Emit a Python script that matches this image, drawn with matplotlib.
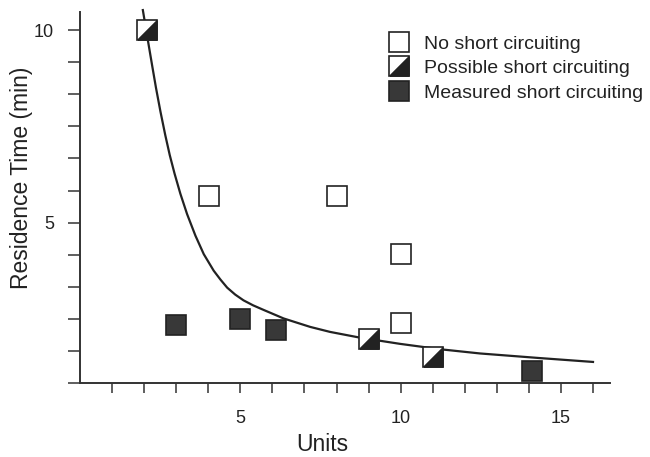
import matplotlib
matplotlib.use('Agg')
import matplotlib.pyplot as plt

# Values
no_x = [4.03, 8.02, 10.0, 10.0]
no_y = [5.69, 5.69, 4.18, 2.39]

possible_x = [2.1, 9.0, 11.0]
possible_y = [10.0, 1.97, 1.51]

measured_x = [3.0, 5.0, 6.1, 14.1]
measured_y = [2.34, 2.49, 2.21, 1.14]

# fitted curve
curve_x = [1.96, 2.12, 2.25, 2.37, 2.51, 2.66, 2.80, 2.95, 3.13, 3.34, 3.60,
           3.86, 4.17, 4.38, 4.59, 4.84, 5.10, 5.40, 5.73, 6.35, 7.18, 7.80,
           8.74, 9.98, 11.23, 12.48, 14.35, 16.0]
curve_y = [10.52, 9.72, 9.08, 8.50, 7.88, 7.27, 6.75, 6.27, 5.75, 5.22, 4.66,
           4.18, 3.75, 3.52, 3.31, 3.13, 2.98, 2.85, 2.73, 2.51, 2.29, 2.16,
           2.01, 1.85, 1.71, 1.60, 1.48, 1.38]

legend_labels = ['No short circuiting', 'Possible short circuiting',
                 'Measured short circuiting']

xtick_pos = list(range(1, 17))
xtick_labels = ['' if v not in (5, 10, 15) else str(v) for v in xtick_pos]
ytick_pos = [0.833, 1.667, 2.5, 3.333, 4.167, 5.0, 5.833, 6.667, 7.5, 8.333, 9.167, 10.0]
ytick_labels = ['', '', '', '', '', '5', '', '', '', '', '', '10']

plt.rcParams['font.family'] = ['Liberation Sans', 'DejaVu Sans']

ink = '#222222'

fig = plt.figure(figsize=(6.5, 4.57), dpi=100)
ax = fig.add_axes([80 / 650, 1 - 383 / 457, 530 / 650, 371 / 457])

ax.plot(curve_x, curve_y, color=ink, lw=1.6, clip_on=False, zorder=2,
        solid_joinstyle='round')

ms = 13.7
h_no, = ax.plot(no_x, no_y, ls='none', marker='s', ms=ms, mfc='white',
                mec=ink, mew=1.2, zorder=3)
h_pos_sq, = ax.plot(possible_x, possible_y, ls='none', marker='s', ms=ms,
                    mfc='white', mec=ink, mew=1.2, zorder=3)
tri = [(-1, -1), (1, -1), (1, 1), (-1, -1)]
h_pos_tri, = ax.plot(possible_x, possible_y, ls='none', marker=tri, ms=ms,
                     mfc=ink, mec=ink, mew=1.2, zorder=4)
h_meas, = ax.plot(measured_x, measured_y, ls='none', marker='s', ms=ms,
                  mfc='#383838', mec=ink, mew=1.2, zorder=3)

ax.legend([h_no, (h_pos_sq, h_pos_tri), h_meas], legend_labels,
          loc='upper left', bbox_to_anchor=(389.5 / 650, 1 - 35 / 457),
          bbox_transform=fig.transFigure, frameon=False, fontsize=14,
          handlelength=1.0, handletextpad=0.75, labelspacing=0.36,
          borderpad=0, borderaxespad=0, labelcolor=ink)

ax.set_xlim(0, 16.53)
ax.set_ylim(0.833, 10.47)
ax.set_xticks(xtick_pos)
ax.set_xticklabels(xtick_labels)
ax.set_yticks(ytick_pos)
ax.set_yticklabels(ytick_labels)

ax.tick_params(axis='both', direction='out', width=1.1, color='#333333',
               labelsize=13, labelcolor=ink)
ax.tick_params(axis='x', length=7.2, pad=12)
ax.tick_params(axis='y', length=8.6, pad=10)

for side in ['top', 'right']:
    ax.spines[side].set_visible(False)
for side in ['left', 'bottom']:
    ax.spines[side].set_linewidth(1.4)
    ax.spines[side].set_color('#333333')

ax.set_ylabel('Residence Time (min)', fontsize=16.5, color=ink)
ax.yaxis.set_label_coords(-0.089, 0.553)
ax.set_xlabel('Units', fontsize=16.5, color=ink)
ax.xaxis.set_label_coords(0.457, -0.135)

fig.savefig('out.png', dpi=100)
